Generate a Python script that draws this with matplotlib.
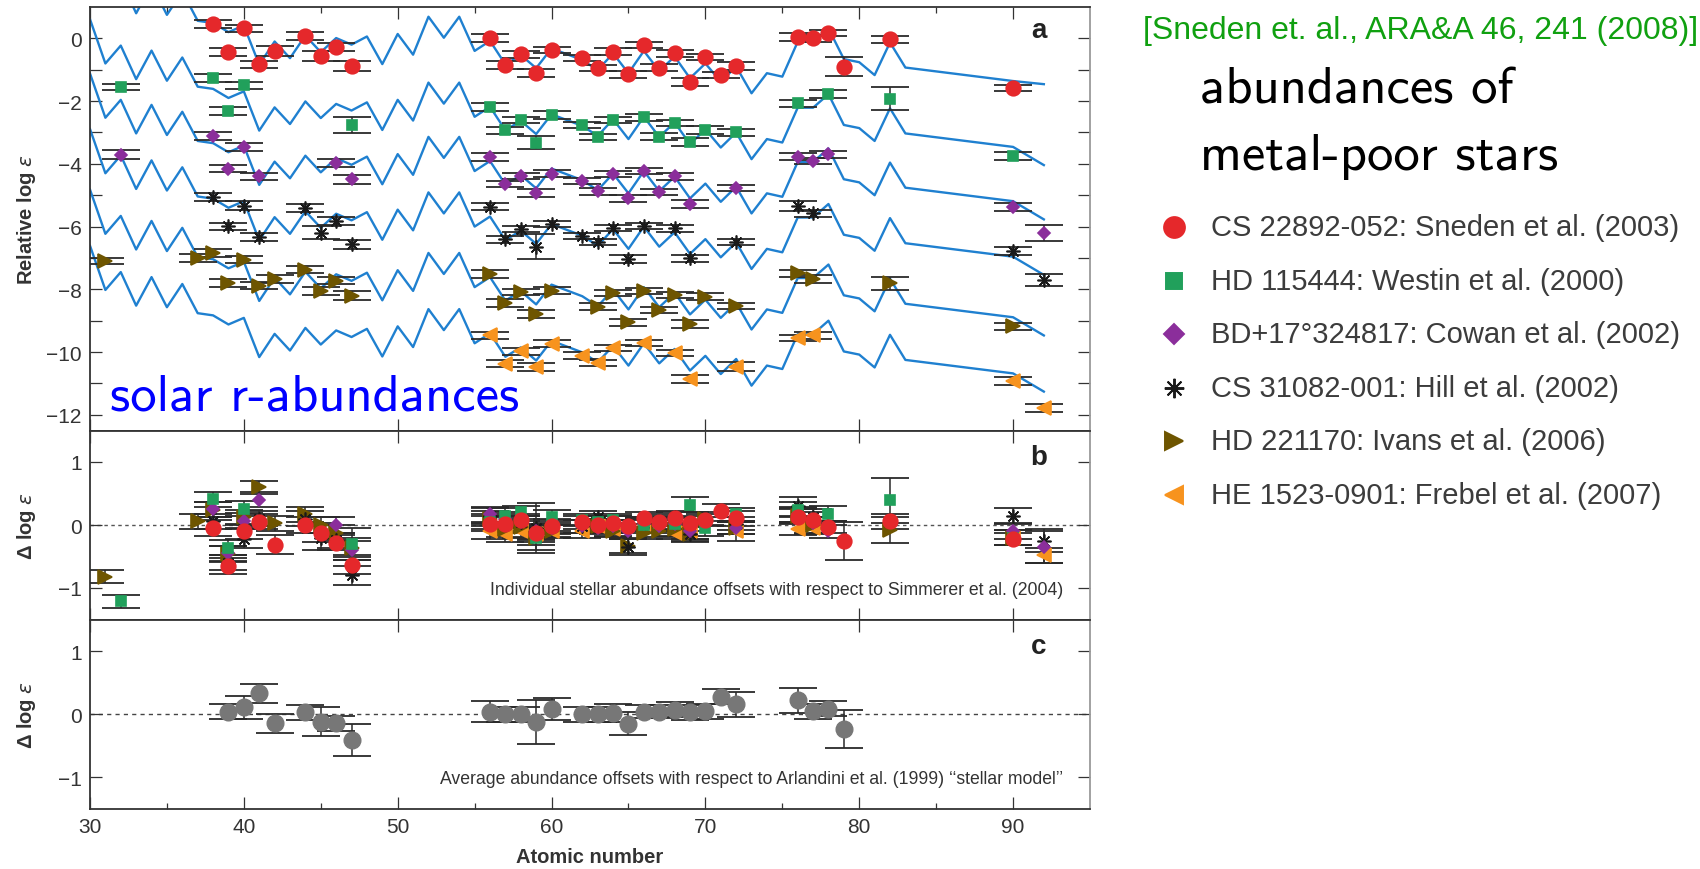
import matplotlib
matplotlib.use("Agg")
import matplotlib.pyplot as plt
from matplotlib.lines import Line2D
import numpy as np

plt.rcParams['font.family'] = ['Liberation Sans', 'DejaVu Sans']
plt.rcParams['mathtext.fontset'] = 'dejavusans'

W, H = 1700, 870

# ---- scaled solar r-process curve (HD 115444 normalisation) ----
solar_z = [30, 31, 32, 33, 34, 35, 36, 37, 38, 39, 40, 41, 42, 43, 44, 45, 46, 47, 48, 49,
           50, 51, 52, 53, 54, 55, 56, 57, 58, 59, 60, 62, 63, 64, 65, 66, 67, 68, 69, 70,
           71, 72, 73, 74, 75, 76, 77, 78, 79, 80, 81, 82, 83, 90, 92]
solar_r = [0.61, -0.80, -0.23, -1.30, -0.39, -1.35, -0.61, -1.54, -1.61, -1.90, -1.69, -2.94,
           -2.20, -2.73, -2.01, -2.54, -2.09, -2.30, -2.04, -2.92, -1.96, -2.62, -1.41, -2.08,
           -1.41, -2.50, -2.18, -2.93, -2.63, -3.05, -2.42, -2.79, -3.11, -2.58, -3.21, -2.50,
           -3.14, -2.68, -3.37, -2.90, -3.48, -3.00, -3.85, -3.21, -3.32, -2.21, -2.21, -1.78,
           -2.76, -2.86, -3.27, -2.23, -3.03, -3.46, -4.04]
# vertical shift of the solar curve for each star (same order as the stars below)
curve_shift = [2.10, 0.00, -1.73, -3.50, -5.43, -7.22]
# uranium end of the CS 22892-052 curve
cs22892_curve_u = -1.46

# ---- CS 22892-052 ----
z_cs22892 = [38, 39, 40, 41, 42, 44, 45, 46, 47, 56, 57, 58, 59, 60, 62, 63, 64, 65, 66, 67,
             68, 69, 70, 71, 72, 76, 77, 78, 79, 82, 90]
a_cs22892 = [0.47, -0.43, 0.32, -0.83, -0.40, 0.07, -0.56, -0.28, -0.88, 0.02, -0.85, -0.51,
             -1.11, -0.37, -0.62, -0.95, -0.42, -1.15, -0.21, -0.93, -0.48, -1.39, -0.59,
             -1.17, -0.88, 0.05, 0.00, 0.18, -0.90, -0.03, -1.59]
d_cs22892 = [-0.05, -0.65, -0.10, 0.05, -0.31, 0.00, -0.12, -0.28, -0.63, 0.02, 0.01, 0.08,
             -0.12, -0.02, 0.04, 0.00, 0.03, -0.02, 0.11, 0.05, 0.11, 0.03, 0.08, 0.23, 0.11,
             0.13, 0.08, -0.03, -0.25, 0.06, -0.22]
e_cs22892 = [0.13, 0.12, 0.12, 0.12, 0.15, 0.12, 0.15, 0.12, 0.15, 0.12, 0.12, 0.10, 0.12,
             0.10, 0.10, 0.10, 0.12, 0.10, 0.10, 0.12, 0.10, 0.12, 0.10, 0.10, 0.12, 0.12,
             0.12, 0.10, 0.30, 0.12, 0.10]

# ---- HD 115444 ----
z_hd115444 = [32, 38, 39, 40, 47, 56, 57, 58, 59, 60, 62, 63, 64, 66, 67, 68, 69, 70, 72, 76,
              78, 82, 90]
a_hd115444 = [-1.55, -1.27, -2.31, -1.50, -2.76, -2.18, -2.93, -2.60, -3.32, -2.44, -2.77,
              -3.14, -2.60, -2.52, -3.13, -2.70, -3.30, -2.92, -3.00, -2.07, -1.78, -1.92, -3.75]
d_hd115444 = [-1.21, 0.41, -0.36, 0.26, -0.30, 0.05, 0.15, 0.20, -0.20, 0.12, 0.08, 0.05, 0.08,
              0.00, 0.03, 0.02, 0.32, -0.05, 0.17, 0.24, 0.18, 0.39, -0.20]
e_hd115444 = [0.10, 0.12, 0.12, 0.12, 0.25, 0.12, 0.12, 0.10, 0.20, 0.12, 0.10, 0.10, 0.10,
              0.10, 0.12, 0.10, 0.12, 0.12, 0.10, 0.12, 0.12, 0.36, 0.12]

# ---- BD+17 3248 ----
z_bd17 = [32, 38, 39, 40, 41, 46, 47, 56, 57, 58, 59, 60, 62, 63, 64, 65, 66, 67, 68, 69, 72,
          76, 77, 78, 90, 92]
a_bd17 = [-3.71, -3.11, -4.15, -3.46, -4.40, -3.97, -4.49, -3.78, -4.64, -4.38, -4.93, -4.31,
          -4.54, -4.88, -4.33, -5.10, -4.22, -4.89, -4.40, -5.28, -4.77, -3.77, -3.91, -3.70,
          -5.37, -6.21]
d_bd17 = [-1.75, 0.25, -0.45, 0.07, 0.40, 0.00, -0.40, 0.17, 0.10, 0.05, -0.10, -0.05, -0.02,
          -0.04, -0.02, -0.10, 0.01, -0.02, 0.01, -0.10, -0.04, 0.17, 0.03, -0.10, -0.10, -0.35]
e_bd17 = [0.15, 0.12, 0.12, 0.12, 0.12, 0.12, 0.15, 0.12, 0.10, 0.10, 0.12, 0.10, 0.10, 0.10,
          0.10, 0.12, 0.10, 0.10, 0.10, 0.12, 0.10, 0.12, 0.10, 0.10, 0.12, 0.25]

# ---- CS 31082-001 ----
z_cs31082 = [38, 39, 40, 41, 44, 45, 46, 47, 56, 57, 58, 59, 60, 62, 63, 64, 65, 66, 68, 69,
             72, 76, 77, 90, 92]
a_cs31082 = [-5.05, -5.99, -5.33, -6.34, -5.41, -6.19, -5.83, -6.57, -5.36, -6.41, -6.08,
             -6.64, -5.92, -6.31, -6.48, -6.04, -7.03, -5.97, -6.06, -7.01, -6.48, -5.34,
             -5.58, -6.77, -7.70]
d_cs31082 = [0.06, -0.60, -0.22, 0.10, 0.10, -0.20, -0.24, -0.80, 0.15, 0.02, 0.05, -0.05,
             0.00, -0.02, 0.13, 0.04, -0.35, 0.03, 0.12, -0.14, 0.02, 0.30, 0.13, 0.15, -0.25]
e_cs31082 = [0.12, 0.12, 0.15, 0.12, 0.12, 0.20, 0.12, 0.15, 0.12, 0.12, 0.10, 0.40, 0.10,
             0.10, 0.10, 0.10, 0.12, 0.10, 0.10, 0.12, 0.10, 0.15, 0.12, 0.12, 0.18]

# ---- HD 221170 ----
z_hd221170 = [31, 37, 38, 39, 40, 41, 42, 44, 45, 46, 47, 56, 57, 58, 59, 60, 63, 64, 65, 66,
              67, 68, 69, 70, 72, 76, 77, 82, 90]
a_hd221170 = [-7.10, -7.00, -6.85, -7.80, -7.05, -7.88, -7.67, -7.37, -8.06, -7.72, -8.20,
              -7.51, -8.43, -8.09, -8.78, -8.04, -8.55, -8.11, -9.05, -8.06, -8.65, -8.18,
              -9.10, -8.23, -8.54, -7.49, -7.67, -7.81, -9.18]
d_hd221170 = [-0.82, 0.06, 0.24, -0.46, 0.12, 0.60, 0.03, 0.17, 0.00, -0.12, -0.36, 0.10, -0.07,
              -0.03, -0.20, -0.10, -0.01, -0.09, -0.33, -0.13, -0.09, -0.07, -0.15, 0.10,
              -0.05, 0.15, 0.00, -0.08, -0.20]
e_hd221170 = [0.10, 0.12, 0.12, 0.12, 0.12, 0.10, 0.12, 0.12, 0.12, 0.12, 0.15, 0.12, 0.12,
              0.10, 0.12, 0.10, 0.10, 0.10, 0.12, 0.10, 0.10, 0.10, 0.12, 0.10, 0.10, 0.12,
              0.12, 0.20, 0.12]

# ---- HE 1523-0901 ----
z_he1523 = [56, 57, 58, 59, 60, 62, 63, 64, 66, 68, 69, 72, 76, 77, 90, 92]
a_he1523 = [-9.47, -10.37, -9.98, -10.48, -9.73, -10.11, -10.35, -9.87, -9.70, -10.02, -10.85,
            -10.46, -9.55, -9.47, -10.93, -11.79]
d_he1523 = [-0.10, -0.15, -0.10, -0.15, -0.09, -0.10, -0.02, -0.07, 0.02, -0.12, -0.10, -0.10,
            -0.06, -0.05, -0.20, -0.48]
e_he1523 = [0.12, 0.12, 0.10, 0.12, 0.10, 0.10, 0.10, 0.10, 0.10, 0.10, 0.12, 0.15, 0.10, 0.10,
            0.12, 0.12]

# ---- mean offsets vs. Arlandini et al. (1999) ----
z_mean = [39, 40, 41, 42, 44, 45, 46, 47, 56, 57, 58, 59, 60, 62, 63, 64, 65, 66, 67, 68, 69,
          70, 71, 72, 76, 77, 78, 79]
d_mean = [0.04, 0.11, 0.33, -0.14, 0.03, -0.12, -0.14, -0.41, 0.04, 0.00, 0.00, -0.12, 0.08,
          0.00, 0.00, 0.02, -0.15, 0.04, 0.04, 0.07, 0.03, 0.05, 0.28, 0.16, 0.22, 0.05, 0.09,
          -0.23]
e_mean = [0.12, 0.18, 0.15, 0.15, 0.12, 0.23, 0.12, 0.25, 0.17, 0.12, 0.12, 0.35, 0.17, 0.12,
          0.12, 0.15, 0.18, 0.10, 0.10, 0.12, 0.12, 0.12, 0.12, 0.20, 0.20, 0.12, 0.12, 0.30]

star_labels = ["CS 22892-052: Sneden et al. (2003)",
               "HD 115444: Westin et al. (2000)",
               "BD+17°324817: Cowan et al. (2002)",
               "CS 31082-001: Hill et al. (2002)",
               "HD 221170: Ivans et al. (2006)",
               "HE 1523-0901: Frebel et al. (2007)"]

stars = [
    dict(z=z_cs22892, a=a_cs22892, d=d_cs22892, e=e_cs22892, marker='o', color='#e5282b', ms=10.5, lms=15),
    dict(z=z_hd115444, a=a_hd115444, d=d_hd115444, e=e_hd115444, marker='s', color='#21a05b', ms=7.8, lms=11),
    dict(z=z_bd17, a=a_bd17, d=d_bd17, e=e_bd17, marker='D', color='#8b2e9b', ms=6.6, lms=10),
    dict(z=z_cs31082, a=a_cs31082, d=d_cs31082, e=e_cs31082, marker=(8, 2, 0), color='#1a1a1a', ms=10, lms=14),
    dict(z=z_hd221170, a=a_hd221170, d=d_hd221170, e=e_hd221170, marker='>', color='#6e5500', ms=10, lms=13.5),
    dict(z=z_he1523, a=a_he1523, d=d_he1523, e=e_he1523, marker='<', color='#f7931e', ms=10, lms=13.5),
]

CURVE = '#1f80d0'
ERR = '#2a2a2a'
TXT = '#333333'

fig = plt.figure(figsize=(W / 100, H / 100), dpi=100)


def add_axes_px(x0, y0, x1, y1):
    return fig.add_axes([x0 / W, 1 - y1 / H, (x1 - x0) / W, (y1 - y0) / H])


ax_a = add_axes_px(90, 8, 1090, 431.5)
ax_b = add_axes_px(90, 431.5, 1090, 620.5)
ax_c = add_axes_px(90, 620.5, 1090, 810)

for ax in (ax_a, ax_b, ax_c):
    ax.set_xlim(30, 95)
    ax.set_xticks(np.arange(30, 95, 10))
    ax.set_xticks(np.arange(35, 95, 10), minor=True)
    ax.tick_params(which='both', direction='in', top=True, right=True, width=0.9,
                   color=TXT, labelcolor=TXT, labelsize=15)
    ax.tick_params(which='major', length=8.5)
    ax.tick_params(which='minor', length=4.5)
    ax.tick_params(axis='y', which='minor', length=8.5)
    ax.tick_params(axis='y', pad=6)
    for side in ('left', 'top', 'bottom'):
        ax.spines[side].set_color('#333333')
        ax.spines[side].set_linewidth(1.3)
    ax.spines['right'].set_color('#9a9a9a')
    ax.spines['right'].set_linewidth(1.3)

YLAB_X = -0.052
YLAB_SIZE = 14.5

# ---- panel a: abundances with scaled solar curves ----
ax_a.set_ylim(-12.5, 1.0)
ax_a.set_yticks(np.arange(-12, 1, 2))
ax_a.set_yticks(np.arange(-11, 1, 2), minor=True)
ax_a.tick_params(axis='x', which='minor', bottom=False, top=True)
ax_a.tick_params(axis='x', labelbottom=False)
for i, s in enumerate(stars):
    curve = np.array(solar_r) + curve_shift[i]
    if i == 0:
        curve[-1] = cs22892_curve_u
    ax_a.plot(solar_z, curve, color=CURVE, lw=1.7, zorder=2)
for s in stars:
    ax_a.errorbar(s['z'], s['a'], yerr=s['e'], fmt='none', ecolor=ERR, elinewidth=1.1,
                  capsize=14, capthick=1.3, zorder=3)
for s in stars:
    ax_a.plot(s['z'], s['a'], ls='none', marker=s['marker'], ms=s['ms'], color=s['color'],
              mec=s['color'], mew=1.2, zorder=4)
ax_a.set_ylabel(r'Relative log $\varepsilon$', fontsize=YLAB_SIZE, fontweight='bold', color=TXT)
ax_a.yaxis.set_label_coords(YLAB_X, 0.5)
ax_a.text(0.949, 0.945, 'a', transform=ax_a.transAxes, fontsize=20, fontweight='bold',
          color='#222222', ha='center', va='center')

# ---- panel b: individual offsets ----
ax_b.set_ylim(-1.5, 1.5)
ax_b.set_yticks([-1, 0, 1])
ax_b.tick_params(axis='x', which='minor', bottom=False, top=False)
ax_b.tick_params(axis='x', labelbottom=False)
ax_b.axhline(0, color='#555555', lw=1.0, ls=(0, (2.5, 2.5)), zorder=1)
for s in reversed(stars):
    ax_b.errorbar(s['z'], s['d'], yerr=s['e'], fmt='none', ecolor=ERR, elinewidth=1.1,
                  capsize=14, capthick=1.3, zorder=3)
for s in reversed(stars):
    ax_b.plot(s['z'], s['d'], ls='none', marker=s['marker'], ms=s['ms'], color=s['color'],
              mec=s['color'], mew=1.2, zorder=4)
ax_b.set_ylabel(r'Δ log $\varepsilon$', fontsize=YLAB_SIZE, fontweight='bold', color=TXT)
ax_b.yaxis.set_label_coords(YLAB_X, 0.5)
ax_b.text(0.949, 0.86, 'b', transform=ax_b.transAxes, fontsize=20, fontweight='bold',
          color='#222222', ha='center', va='center')
ax_b.text(0.973, 0.16, 'Individual stellar abundance offsets with respect to Simmerer et al. (2004)',
          transform=ax_b.transAxes, fontsize=12.7, color=TXT, ha='right', va='center')

# ---- panel c: mean offsets ----
ax_c.set_ylim(-1.5, 1.5)
ax_c.set_yticks([-1, 0, 1])
ax_c.tick_params(axis='x', which='minor', bottom=True, top=False)
ax_c.tick_params(axis='x', pad=6)
ax_c.axhline(0, color='#444444', lw=1.0, ls=(0, (3, 3)), zorder=1)
ax_c.errorbar(z_mean, d_mean, yerr=e_mean, fmt='none', ecolor=ERR, elinewidth=1.1,
              capsize=14, capthick=1.3, zorder=3)
ax_c.plot(z_mean, d_mean, ls='none', marker='o', ms=12, color='#777777', zorder=4)
ax_c.set_ylabel(r'Δ log $\varepsilon$', fontsize=YLAB_SIZE, fontweight='bold', color=TXT)
ax_c.yaxis.set_label_coords(YLAB_X, 0.5)
ax_c.set_xlabel('Atomic number', fontsize=14.5, fontweight='bold', color=TXT, labelpad=8)
ax_c.text(0.949, 0.86, 'c', transform=ax_c.transAxes, fontsize=20, fontweight='bold',
          color='#222222', ha='center', va='center')
ax_c.text(0.973, 0.16,
          'Average abundance offsets with respect to Arlandini et al. (1999) \u2018\u2018stellar model\u2019\u2019',
          transform=ax_c.transAxes, fontsize=12.7, color=TXT, ha='right', va='center')


# ---- annotations and legend on the figure ----
def fx(x):
    return x / W


def fy(y):
    return 1 - y / H


fig.text(fx(110), fy(411), 'solar r-abundances', family=['cmss10', 'DejaVu Sans'],
         fontsize=38, color='#0000ff', ha='left', va='baseline')
fig.text(fx(1698), fy(39), '[Sneden et. al., ARA&A 46, 241 (2008)]', fontsize=23,
         color='#10a010', ha='right', va='baseline')
fig.text(fx(1200), fy(104), 'abundances of', family=['cmss10', 'DejaVu Sans'],
         fontsize=38, color='black', ha='left', va='baseline')
fig.text(fx(1200), fy(170), 'metal-poor stars', family=['cmss10', 'DejaVu Sans'],
         fontsize=38, color='black', ha='left', va='baseline')

row0, pitch = 228, 53.6
for i, (s, label) in enumerate(zip(stars, star_labels)):
    y = row0 + i * pitch
    fig.add_artist(Line2D([fx(1174)], [fy(y)], transform=fig.transFigure, ls='none',
                          marker=s['marker'], ms=s['lms'], color=s['color'],
                          mec=s['color'], mew=1.4))
    fig.text(fx(1211), fy(y), label, fontsize=21, color='#3c3c3c', ha='left', va='center')

fig.savefig('out.png', dpi=100)
